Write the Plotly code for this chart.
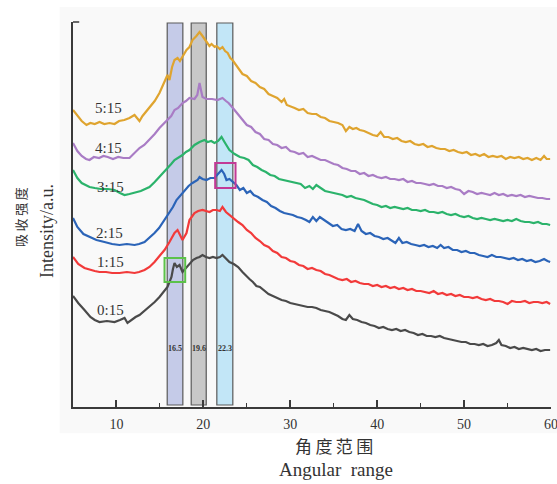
import plotly.graph_objects as go

# ---------------- data: (2θ in degrees, intensity in a.u.) ----------------
ratios = ["5:15", "4:15", "3:15", "2:15", "1:15", "0:15"]

pts_515 = [(5.0, 297), (5.5, 291), (6.0, 286), (6.55, 282), (7.0, 284), (7.5, 283), (8.05, 285), (8.6, 283),
           (9.2, 284), (9.78, 283), (10.3, 286), (10.9, 287), (11.5, 289), (12.08, 292), (12.4, 289), (12.65, 286),
           (13.0, 291), (13.4, 295), (13.8, 300), (14.4, 306), (14.95, 314), (15.4, 322), (15.87, 332), (16.1, 327),
           (16.4, 340), (16.68, 347), (17.03, 349), (17.3, 346), (17.6, 350), (18.06, 357), (18.4, 360), (18.75, 367),
           (19.2, 371), (19.56, 375), (19.9, 371), (20.36, 365), (20.7, 361), (20.94, 363), (21.3, 360), (21.51, 361),
           (21.9, 358), (22.2, 360), (22.5, 356), (22.8, 354), (23.1, 349), (23.35, 347), (23.7, 343), (24.0, 339),
           (24.5, 333), (25.0, 331), (25.5, 326), (26.0, 324), (26.5, 320), (27.0, 318), (27.5, 313), (28.0, 311),
           (28.5, 309), (29.0, 305), (29.3, 308), (29.6, 302), (30.0, 301), (30.5, 299), (31.0, 297), (31.5, 298),
           (32.0, 294), (32.5, 293), (33.0, 293), (33.5, 290), (34.0, 289), (34.5, 286), (35.0, 285), (35.5, 284),
           (36.0, 282), (36.4, 276), (36.8, 280), (37.2, 278), (37.6, 279), (38.0, 277), (38.5, 276), (39.0, 274),
           (39.5, 272), (40.0, 271), (40.4, 275), (40.8, 270), (41.3, 270), (41.8, 268), (42.3, 269), (42.8, 266),
           (43.3, 265), (43.8, 266), (44.3, 263), (44.8, 262), (45.3, 263), (45.8, 260), (46.3, 261), (46.8, 259),
           (47.3, 258), (47.8, 258), (48.3, 256), (48.8, 257), (49.3, 255), (49.8, 254), (50.3, 255), (50.8, 252),
           (51.3, 253), (51.8, 251), (52.3, 253), (52.8, 250), (53.3, 251), (53.8, 250), (54.3, 251), (54.8, 248),
           (55.3, 250), (55.8, 249), (56.3, 250), (56.8, 248), (57.3, 249), (57.8, 247), (58.3, 249), (58.8, 247),
           (59.2, 251), (59.5, 248), (59.9, 248)]

pts_415 = [(5.0, 264), (5.5, 256), (6.0, 251), (6.5, 248), (6.9, 247), (7.4, 250), (8.0, 249), (8.5, 251),
           (9.0, 250), (9.6, 248), (10.2, 250), (10.8, 249), (11.5, 249), (12.1, 254), (12.65, 259), (13.2, 262),
           (13.8, 267), (14.4, 273), (14.95, 279), (15.4, 283), (15.87, 287), (16.3, 291), (16.68, 297), (17.1, 299),
           (17.6, 304), (18.0, 306), (18.4, 309), (18.98, 308), (19.3, 312), (19.56, 324), (19.75, 316), (19.9, 310),
           (20.36, 308), (21.0, 308), (21.63, 307), (22.2, 309), (22.6, 306), (22.9, 304), (23.3, 300), (23.6, 297),
           (24.0, 293), (24.5, 288), (25.0, 282), (25.5, 280), (26.0, 275), (26.5, 273), (27.0, 268), (27.5, 267),
           (28.0, 263), (28.5, 262), (29.0, 259), (29.5, 260), (30.0, 256), (30.5, 255), (31.0, 253), (31.5, 254),
           (32.0, 250), (32.5, 251), (33.0, 249), (33.5, 247), (34.0, 247), (34.5, 245), (35.0, 243), (35.5, 242),
           (36.0, 239), (36.5, 238), (37.0, 236), (37.5, 236), (38.0, 233), (38.5, 234), (39.0, 231), (39.5, 232),
           (40.0, 230), (40.5, 229), (41.0, 230), (41.5, 228), (42.0, 228), (42.5, 227), (43.0, 228), (43.5, 225),
           (44.0, 226), (44.5, 224), (45.0, 224), (45.5, 223), (46.0, 222), (46.5, 223), (47.0, 221), (47.5, 221),
           (48.0, 219), (48.5, 220), (49.0, 218), (49.5, 217), (50.0, 213), (50.5, 216), (51.0, 215), (51.5, 213),
           (52.0, 214), (52.5, 213), (53.0, 212), (53.5, 214), (54.0, 212), (54.5, 213), (55.0, 211), (55.5, 212),
           (56.0, 211), (56.5, 212), (57.0, 210), (57.5, 211), (58.0, 210), (58.5, 209), (59.0, 209), (59.5, 208),
           (59.9, 208)]

pts_315 = [(5.0, 237), (5.5, 229), (6.0, 224), (6.9, 220), (7.5, 219), (8.2, 218), (9.0, 218), (9.78, 217),
           (10.4, 214), (10.93, 212), (11.5, 213), (12.08, 214), (12.8, 216), (13.3, 218), (13.8, 220), (14.4, 225),
           (14.95, 230), (15.4, 234), (15.87, 239), (16.3, 243), (16.68, 247), (17.1, 249), (17.6, 252), (18.0, 255),
           (18.4, 257), (18.98, 262), (19.56, 265), (20.13, 267), (20.5, 265), (20.9, 266), (21.28, 264), (21.7, 266),
           (22.09, 270), (22.5, 264), (23.0, 257), (23.6, 253), (24.2, 250), (24.7, 249), (25.2, 247), (25.7, 242),
           (26.2, 240), (26.7, 237), (27.2, 235), (27.7, 232), (28.2, 231), (28.7, 228), (29.2, 227), (29.7, 226),
           (30.2, 225), (30.7, 224), (31.2, 223), (31.7, 219), (32.2, 221), (32.6, 218), (33.0, 222), (33.5, 219),
           (34.0, 216), (34.5, 215), (35.0, 214), (35.5, 213), (36.0, 212), (36.5, 210), (37.0, 211), (37.5, 209),
           (38.0, 208), (38.5, 207), (39.0, 205), (39.5, 203), (40.0, 202), (40.5, 200), (41.0, 201), (41.5, 199),
           (42.0, 200), (42.5, 199), (43.0, 198), (43.5, 199), (44.0, 197), (44.5, 197), (45.0, 196), (45.5, 197),
           (46.0, 195), (46.5, 195), (47.0, 194), (47.5, 195), (48.0, 193), (48.5, 192), (49.0, 193), (49.5, 191),
           (50.0, 190), (50.5, 191), (51.0, 189), (51.5, 188), (52.0, 189), (52.5, 188), (53.0, 187), (53.5, 188),
           (54.0, 187), (54.5, 186), (55.0, 187), (55.5, 186), (56.0, 188), (56.5, 186), (57.0, 185), (57.5, 185),
           (58.0, 184), (58.5, 185), (59.0, 183), (59.5, 183), (59.9, 182)]

pts_215 = [(5.0, 189), (5.5, 180), (6.2, 173), (6.9, 170), (7.7, 167), (8.62, 165), (9.5, 163), (10.35, 162),
           (11.2, 163), (12.08, 162), (12.6, 163), (13.23, 165), (13.8, 169), (14.38, 174), (14.9, 179), (15.3, 184),
           (15.7, 189), (16.1, 194), (16.5, 200), (16.91, 207), (17.4, 212), (17.83, 217), (18.3, 221), (18.75, 224),
           (19.33, 227), (19.56, 230), (19.9, 228), (20.36, 227), (20.8, 229), (21.28, 229), (21.63, 232), (22.09, 237),
           (22.4, 233), (22.66, 227), (23.0, 228), (23.35, 225), (23.8, 222), (24.2, 217), (24.6, 219), (25.0, 214),
           (25.4, 216), (25.8, 212), (26.3, 210), (26.8, 207), (27.3, 205), (27.8, 201), (28.3, 199), (28.8, 196),
           (29.3, 194), (29.8, 193), (30.3, 192), (30.8, 190), (31.3, 189), (31.8, 187), (32.2, 185), (32.6, 190),
           (33.0, 186), (33.4, 190), (33.9, 187), (34.4, 184), (34.9, 181), (35.4, 182), (35.9, 178), (36.4, 177),
           (36.9, 178), (37.4, 176), (37.8, 183), (38.2, 176), (38.7, 173), (39.2, 174), (39.7, 171), (40.2, 170),
           (40.7, 168), (41.2, 169), (41.7, 166), (42.1, 164), (42.5, 169), (42.9, 164), (43.4, 165), (43.9, 163),
           (44.4, 162), (44.9, 161), (45.4, 162), (45.9, 160), (46.4, 161), (46.9, 159), (47.3, 162), (47.7, 159),
           (48.2, 160), (48.7, 157), (49.2, 157), (49.7, 155), (50.2, 156), (50.7, 154), (51.2, 154), (51.7, 152),
           (52.2, 151), (52.7, 150), (53.2, 152), (53.7, 150), (54.2, 150), (54.7, 149), (55.2, 148), (55.7, 149),
           (56.2, 147), (56.7, 148), (57.2, 146), (57.7, 147), (58.2, 145), (58.7, 146), (59.2, 148), (59.6, 146),
           (59.9, 145)]

pts_115 = [(5.0, 150), (5.6, 143), (6.32, 139), (7.0, 137), (7.5, 136), (8.05, 135), (8.8, 135), (9.5, 134),
           (10.35, 134), (11.2, 135), (12.08, 134), (12.6, 135), (13.23, 137), (13.8, 140), (14.38, 145), (14.95, 151),
           (15.53, 157), (16.1, 165), (16.68, 174), (17.03, 177), (17.3, 172), (17.6, 167), (18.06, 174), (18.4, 187),
           (18.98, 194), (19.4, 196), (19.9, 197), (20.3, 196), (20.71, 195), (21.1, 197), (21.51, 197), (21.9, 196),
           (22.2, 200), (22.6, 195), (23.0, 192), (23.5, 189), (24.0, 185), (24.5, 182), (25.0, 177), (25.5, 174),
           (26.0, 169), (26.5, 166), (27.0, 162), (27.5, 160), (28.0, 156), (28.5, 154), (29.0, 150), (29.5, 149),
           (30.0, 146), (30.5, 145), (31.0, 142), (31.5, 141), (32.0, 138), (32.5, 139), (33.0, 137), (33.5, 136),
           (34.0, 133), (34.5, 132), (35.0, 130), (35.5, 128), (36.0, 127), (36.5, 128), (37.0, 125), (37.5, 126),
           (38.0, 124), (38.5, 123), (39.0, 123), (39.5, 121), (40.0, 122), (40.5, 120), (41.0, 121), (41.5, 119),
           (42.0, 120), (42.5, 118), (43.0, 119), (43.5, 117), (44.0, 118), (44.5, 116), (45.0, 116), (45.5, 115),
           (46.0, 114), (46.5, 116), (47.0, 113), (47.5, 114), (48.0, 112), (48.5, 113), (49.0, 111), (49.5, 112),
           (50.0, 110), (50.5, 110), (51.0, 109), (51.5, 110), (52.0, 108), (52.5, 107), (53.0, 108), (53.5, 106),
           (54.0, 106), (54.5, 105), (55.0, 103), (55.5, 106), (56.0, 105), (56.5, 105), (57.0, 106), (57.5, 104),
           (58.0, 105), (58.5, 105), (59.0, 104), (59.5, 105), (59.9, 103)]

pts_015 = [(5.0, 111), (5.6, 104), (6.32, 97), (7.0, 90), (7.5, 87), (8.05, 85), (8.9, 86), (9.78, 85),
           (10.4, 87), (10.93, 89), (11.27, 84), (11.7, 87), (12.2, 90), (12.65, 92), (13.2, 96), (13.8, 100),
           (14.4, 105), (14.95, 110), (15.4, 115), (15.87, 120), (16.1, 125), (16.33, 130), (16.5, 138), (16.68, 144),
           (16.95, 140), (17.26, 142), (17.6, 135), (18.0, 139), (18.4, 144), (18.8, 147), (19.21, 149), (19.56, 150),
           (19.9, 152), (20.3, 150), (20.71, 149), (21.1, 150), (21.51, 149), (21.9, 150), (22.2, 152), (22.6, 148),
           (23.0, 145), (23.5, 143), (24.0, 140), (24.5, 135), (25.0, 130), (25.3, 128), (25.7, 125), (26.1, 121),
           (26.5, 120), (27.0, 116), (27.5, 113), (28.0, 111), (28.5, 109), (29.0, 107), (29.5, 106), (30.0, 104),
           (30.5, 103), (31.0, 102), (31.5, 101), (32.0, 100), (32.5, 100), (33.0, 99), (33.5, 97), (34.0, 96),
           (34.5, 95), (35.0, 93), (35.5, 91), (36.0, 88), (36.4, 87), (36.8, 92), (37.2, 88), (37.7, 87),
           (38.2, 85), (38.7, 84), (39.2, 82), (39.7, 81), (40.2, 79), (40.7, 80), (41.2, 78), (41.7, 77),
           (42.2, 78), (42.7, 76), (43.2, 77), (43.7, 75), (44.2, 74), (44.7, 72), (45.2, 73), (45.7, 71),
           (46.2, 71), (46.7, 70), (47.2, 71), (47.7, 69), (48.2, 68), (48.7, 67), (49.2, 66), (49.7, 65),
           (50.2, 65), (50.7, 63), (51.2, 63), (51.7, 62), (52.2, 63), (52.7, 61), (53.2, 62), (53.7, 64),
           (54.0, 67), (54.3, 62), (54.8, 61), (55.3, 59), (55.8, 60), (56.3, 58), (56.8, 59), (57.3, 58),
           (57.8, 57), (58.3, 58), (58.8, 56), (59.3, 57), (59.9, 57)]

band_labels = ["16.5", "19.6", "22.3"]
band_x0 = [15.84, 18.6, 21.55]
band_x1 = [17.64, 20.33, 23.39]

x_ticks = [10, 20, 30, 40, 50, 60]
x_minor = [15, 25, 35, 45, 55]

# ---------------- styles ----------------
series = [pts_515, pts_415, pts_315, pts_215, pts_115, pts_015]
colors = ["#dfa42f", "#a97cc5", "#2bb36b", "#2b64b8", "#f23a3a", "#4a4a4a"]
label_pos = [(9.05, 299), (9.05, 259), (9.3, 220), (9.2, 174), (9.3, 145), (9.3, 97)]
band_fill = ["#c5cbe8", "#c8c8c8", "#c2e6f7"]
SERIF = "Liberation Serif, Times New Roman, serif"
CJK = "Noto Sans CJK SC, Noto Sans CJK JP, sans-serif"
AXC = "#3a3a3a"
TXT = "#333333"
TS = "\u2009"

fig = go.Figure()

for pts, c in zip(series, colors):
    x, y = zip(*pts)
    fig.add_trace(go.Scatter(x=list(x), y=list(y), mode="lines",
                             line=dict(color=c, width=2.2), showlegend=False,
                             hoverinfo="skip"))

shapes = []
shapes.append(dict(type="rect", xref="paper", yref="paper", x0=-0.028, x1=1.02,
                   y0=-0.068, y1=1.039, fillcolor="#f9f9f9", line=dict(width=0),
                   layer="below"))
for x0, x1, f in zip(band_x0, band_x1, band_fill):
    shapes.append(dict(type="rect", xref="x", yref="y", x0=x0, x1=x1, y0=2, y1=384,
                       fillcolor=f, line=dict(color="#5a5a5a", width=1.2), layer="below"))
shapes.append(dict(type="rect", xref="x", yref="y", x0=15.53, x1=17.91, y0=125, y1=149,
                   line=dict(color="#5cc24a", width=2)))
shapes.append(dict(type="rect", xref="x", yref="y", x0=21.36, x1=23.7, y0=219, y1=244,
                   line=dict(color="#c23a96", width=2)))
shapes.append(dict(type="line", xref="paper", yref="paper", x0=0, x1=0.013, y0=1, y1=1,
                   line=dict(color=AXC, width=1.5)))

def pa(px, py, text, font, angle=0):
    return dict(xref="paper", yref="paper", x=(px - 73) / 478, y=(407 - py) / 385,
                xanchor="center", yanchor="middle", text=text, showarrow=False,
                textangle=angle, font=font)

annotations = []
for lab, (lx, ly) in zip(ratios, label_pos):
    annotations.append(dict(x=lx, y=ly, xref="x", yref="y", text=lab, showarrow=False,
                            xanchor="center", yanchor="middle",
                            font=dict(family=SERIF, size=15, color=TXT)))
for lab, x0, x1 in zip(band_labels, band_x0, band_x1):
    annotations.append(dict(x=(x0 + x1) / 2, y=59, xref="x", yref="y", text="<b>" + lab + "</b>",
                            showarrow=False, xanchor="center", yanchor="middle",
                            font=dict(family=SERIF, size=8, color=TXT)))
annotations.append(pa(334, 446, TS.join("角度范围"), dict(family=CJK, size=17, color=TXT)))
annotations.append(pa(336, 469, "Angular\u00a0\u00a0range", dict(family=SERIF, size=19, color=TXT)))
annotations.append(pa(20, 217, TS.join("吸收强度"), dict(family=CJK, size=13, color=TXT), -90))
annotations.append(pa(47, 231, "Intensity/a.u.", dict(family=SERIF, size=18, color=TXT), -90))

fig.update_layout(
    width=557, height=484,
    margin=dict(l=73, r=6, t=22, b=77, autoexpand=False),
    paper_bgcolor="white", plot_bgcolor="rgba(0,0,0,0)",
    shapes=shapes, annotations=annotations,
    xaxis=dict(range=[5, 60], showgrid=False, zeroline=False, automargin=False,
               showline=True, linecolor=AXC, linewidth=1.5,
               ticks="inside", ticklen=7, tickwidth=1.5, tickcolor=AXC,
               tickvals=x_ticks, ticktext=[str(v) for v in x_ticks],
               ticklabeloverflow="allow", ticklabelstandoff=3,
               tickfont=dict(family=SERIF, size=14, color=TXT),
               minor=dict(ticks="inside", ticklen=4, tickwidth=1.3, tickcolor=AXC,
                          tickvals=x_minor)),
    yaxis=dict(range=[0, 385], showgrid=False, zeroline=False, showticklabels=False,
               automargin=False,
               showline=True, linecolor=AXC, linewidth=1.5, ticks=""),
)

fig.write_html("out.html")
